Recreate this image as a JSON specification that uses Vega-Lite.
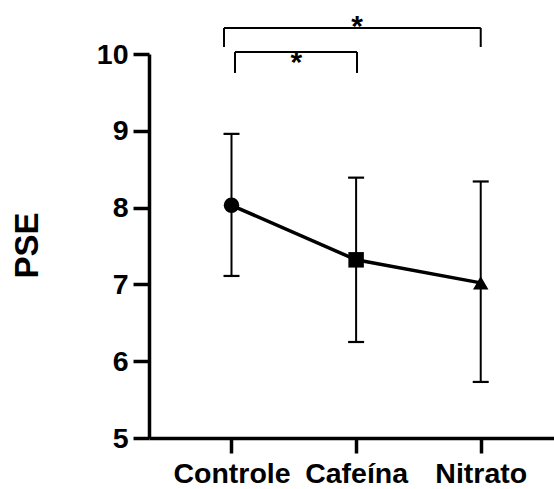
{
  "$schema": "https://vega.github.io/schema/vega-lite/v6.json",
  "autosize": {"type": "none"},
  "width": 405,
  "height": 384,
  "padding": {"left": 149, "top": 54, "right": 0, "bottom": 51},
  "background": "white",
  "config": {
    "view": {"stroke": null},
    "font": "Liberation Sans"
  },
  "datasets": {
    "grupos": [
      {"grupo": "Controle", "ordem": 1, "media": 8.03, "inferior": 7.11, "superior": 8.96},
      {"grupo": "Cafeína", "ordem": 2, "media": 7.32, "inferior": 6.25, "superior": 8.39},
      {"grupo": "Nitrato", "ordem": 3, "media": 7.02, "inferior": 5.73, "superior": 8.34}
    ],
    "comparacoes": [
      {"de": 0.94, "ate": 3.0, "topo": 10.339, "base": 10.091, "rotulo": "*", "xr": 2.007, "yr": 10.24},
      {"de": 1.028, "ate": 2.007, "topo": 10.026, "base": 9.753, "rotulo": "*", "xr": 1.52, "yr": 9.76}
    ]
  },
  "encoding": {
    "x": {
      "type": "quantitative",
      "scale": {"domain": [0.338, 3.588], "nice": false, "zero": false},
      "axis": {
        "values": [1, 2, 3],
        "labelExpr": "datum.value == 1 ? 'Controle' : datum.value == 2 ? 'Cafeína' : 'Nitrato'",
        "title": null,
        "grid": false,
        "domainColor": "black",
        "domainWidth": 3.5,
        "tickColor": "black",
        "tickWidth": 3.5,
        "tickSize": 15,
        "labelFont": "Liberation Sans",
        "labelFontWeight": "bold",
        "labelFontSize": 28.5,
        "labelColor": "black",
        "labelPadding": 6,
        "labelFlush": false,
        "labelOverlap": false
      }
    },
    "y": {
      "type": "quantitative",
      "scale": {"domain": [5, 10], "nice": false, "zero": false},
      "axis": {
        "values": [5, 6, 7, 8, 9, 10],
        "title": "PSE",
        "grid": false,
        "domainColor": "black",
        "domainWidth": 3.5,
        "tickColor": "black",
        "tickWidth": 3.5,
        "tickSize": 16,
        "labelFont": "Liberation Sans",
        "labelFontWeight": "bold",
        "labelFontSize": 28.5,
        "labelColor": "black",
        "labelPadding": 5,
        "labelFlush": false,
        "labelOverlap": false,
        "titleFont": "Liberation Sans",
        "titleFontWeight": "bold",
        "titleFontSize": 33,
        "titleColor": "black",
        "titleAngle": -90,
        "titleAlign": "center",
        "titleBaseline": "middle",
        "titleX": -122,
        "titleY": 191
      }
    }
  },
  "layer": [
    {
      "data": {"name": "grupos"},
      "mark": {"type": "rule", "color": "black", "strokeWidth": 2},
      "encoding": {
        "x": {"field": "ordem"},
        "y": {"field": "inferior"},
        "y2": {"field": "superior"}
      }
    },
    {
      "data": {"name": "grupos"},
      "mark": {"type": "tick", "orient": "horizontal", "color": "black", "size": 16, "thickness": 2.2, "opacity": 1},
      "encoding": {
        "x": {"field": "ordem"},
        "y": {"field": "inferior"}
      }
    },
    {
      "data": {"name": "grupos"},
      "mark": {"type": "tick", "orient": "horizontal", "color": "black", "size": 16, "thickness": 2.2, "opacity": 1},
      "encoding": {
        "x": {"field": "ordem"},
        "y": {"field": "superior"}
      }
    },
    {
      "data": {"name": "grupos"},
      "mark": {"type": "line", "color": "black", "strokeWidth": 3.5},
      "encoding": {
        "x": {"field": "ordem"},
        "y": {"field": "media"}
      }
    },
    {
      "data": {"name": "grupos"},
      "mark": {"type": "point", "filled": true, "color": "black", "opacity": 1, "size": 240},
      "encoding": {
        "x": {"field": "ordem"},
        "y": {"field": "media"},
        "shape": {
          "field": "grupo",
          "type": "nominal",
          "scale": {"domain": ["Controle", "Cafeína", "Nitrato"], "range": ["circle", "square", "triangle-up"]},
          "legend": null
        }
      }
    },
    {
      "data": {"name": "comparacoes"},
      "mark": {"type": "rule", "color": "black", "strokeWidth": 2},
      "encoding": {
        "x": {"field": "de"},
        "x2": {"field": "ate"},
        "y": {"field": "topo"}
      }
    },
    {
      "data": {"name": "comparacoes"},
      "mark": {"type": "rule", "color": "black", "strokeWidth": 2},
      "encoding": {
        "x": {"field": "de"},
        "y": {"field": "base"},
        "y2": {"field": "topo"}
      }
    },
    {
      "data": {"name": "comparacoes"},
      "mark": {"type": "rule", "color": "black", "strokeWidth": 2},
      "encoding": {
        "x": {"field": "ate"},
        "y": {"field": "base"},
        "y2": {"field": "topo"}
      }
    },
    {
      "data": {"name": "comparacoes"},
      "mark": {"type": "text", "color": "black", "fontSize": 30, "fontWeight": "bold", "font": "Liberation Sans", "align": "center", "baseline": "alphabetic"},
      "encoding": {
        "x": {"field": "xr"},
        "y": {"field": "yr"},
        "text": {"field": "rotulo"}
      }
    }
  ]
}
